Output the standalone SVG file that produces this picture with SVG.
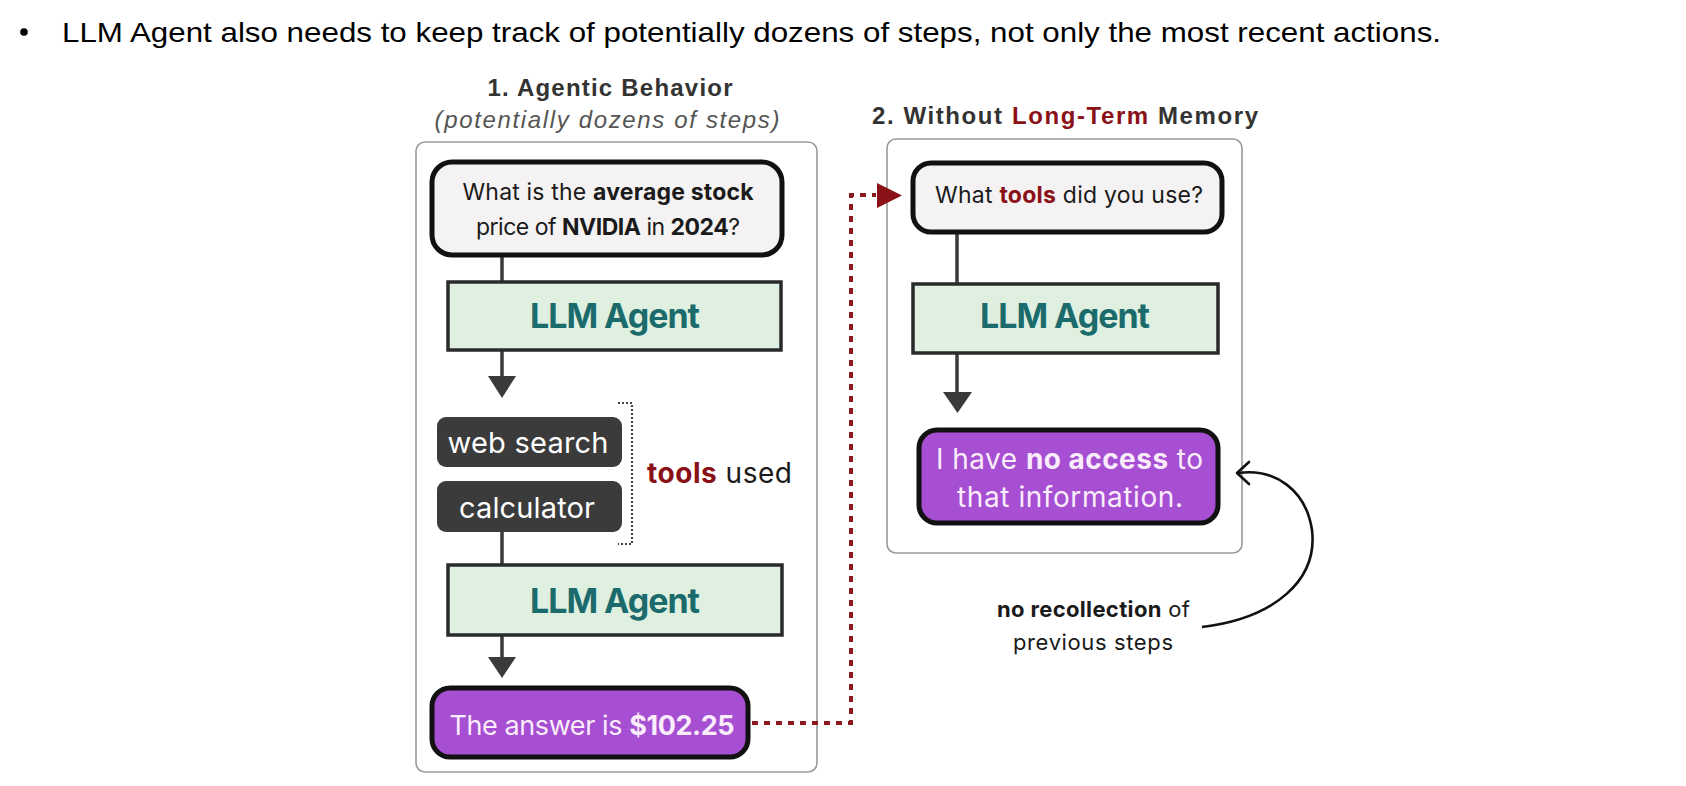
<svg xmlns="http://www.w3.org/2000/svg" width="1686" height="786" viewBox="0 0 1686 786">
<style>
  .panel{fill:#ffffff;stroke:#9a9a9a;stroke-width:1.6}
  .q{fill:#f4f2f2;stroke:#111;stroke-width:5}
  .llm{fill:#dff0e0;stroke:#2a2a2a;stroke-width:3.5}
  .tool{fill:#3b3b3b}
  .ans{fill:#a64fd2;stroke:#111;stroke-width:5}
  .t{font-family:Inter,"Liberation Sans",sans-serif;fill:#1a1a1a}
  .b{font-weight:700}
  .llmt{font-family:Inter,"Liberation Sans",sans-serif;font-weight:700;fill:#1b6b6d;font-size:34px}
  .wt{font-family:Inter,"Liberation Sans",sans-serif;fill:#ffffff}
  .pt{font-family:Inter,"Liberation Sans",sans-serif;fill:#fbecfb}
  .red{fill:#8b1118}
  .h{font-family:"Liberation Sans",Arial,sans-serif;font-weight:700;fill:#333333;font-size:24px}
  .flow{stroke:#3a3a3a;stroke-width:3.5;fill:none}
  .tri{fill:#3a3a3a}
</style>

<g id="title">
  <circle cx="24" cy="32" r="3.8" fill="#000"/>
  <text x="62" y="42" font-family="'Liberation Sans',Arial,sans-serif" font-size="28" fill="#000" textLength="1379" lengthAdjust="spacingAndGlyphs">LLM Agent also needs to keep track of potentially dozens of steps, not only the most recent actions.</text>
</g>

<g id="panel1">
  <rect class="panel" x="416" y="142" width="401" height="630" rx="9"/>
  <text class="h" x="610" y="96" text-anchor="middle" textLength="245">1. Agentic Behavior</text>
  <text x="607" y="128" text-anchor="middle" font-family="'Liberation Sans',Arial,sans-serif" font-style="italic" font-size="24" fill="#555" textLength="345">(potentially dozens of steps)</text>
</g>

<g id="panel2">
  <rect class="panel" x="887" y="139" width="355" height="414" rx="9"/>
  <text class="h" x="1065" y="124" text-anchor="middle" textLength="386">2. Without <tspan class="red">Long-Term</tspan> Memory</text>
</g>

<g id="connectors">
  <line class="flow" x1="502" y1="255" x2="502" y2="282"/>
  <line class="flow" x1="502" y1="350" x2="502" y2="378"/>
  <polygon class="tri" points="488,376 516,376 502,398"/>
  <line class="flow" x1="502" y1="532" x2="502" y2="565"/>
  <line class="flow" x1="502" y1="635" x2="502" y2="659"/>
  <polygon class="tri" points="488,657 516,657 502,678"/>
  <line class="flow" x1="957" y1="232" x2="957" y2="284"/>
  <line class="flow" x1="957" y1="353" x2="957" y2="394"/>
  <polygon class="tri" points="943,392 972,392 957.5,413"/>
  <path d="M752,723 H851 V195 H876" fill="none" stroke="#8b1a1f" stroke-width="4" stroke-dasharray="6 6"/>
  <polygon points="877,183 902,195.5 877,208" fill="#8b1118"/>
  <path d="M1202,627 C1275,618 1318,580 1312,530 C1306,490 1275,468 1238,473" fill="none" stroke="#111" stroke-width="2.6"/>
  <polyline points="1249,462 1237,473 1249,484" fill="none" stroke="#111" stroke-width="2.6" stroke-linecap="round" stroke-linejoin="round"/>
</g>

<g id="question1">
  <rect class="q" x="432" y="162" width="350" height="93" rx="20"/>
  <text class="t" x="608" y="200" text-anchor="middle" font-size="23" textLength="291">What is the <tspan class="b">average stock</tspan></text>
  <text class="t" x="608" y="235" text-anchor="middle" font-size="23" textLength="264">price of <tspan class="b">NVIDIA</tspan> in <tspan class="b">2024</tspan>?</text>
</g>

<g id="llm1">
  <rect class="llm" x="448" y="282" width="333" height="68"/>
  <text class="llmt" x="615" y="328" text-anchor="middle" textLength="170">LLM Agent</text>
</g>

<g id="websearch">
  <rect class="tool" x="437" y="417" width="185" height="50" rx="9"/>
  <text class="wt" x="528" y="453" text-anchor="middle" font-size="29" textLength="161">web search</text>
</g>

<g id="calculator">
  <rect class="tool" x="437" y="481" width="185" height="51" rx="9"/>
  <text class="wt" x="527" y="518" text-anchor="middle" font-size="29" textLength="136">calculator</text>
</g>

<g id="toolsused">
  <path d="M618,403 H632 V544 H618" fill="none" stroke="#444" stroke-width="2.2" stroke-dasharray="2 2"/>
  <text class="t" x="647" y="483" font-size="28" textLength="145"><tspan class="b red">tools</tspan> used</text>
</g>

<g id="llm2">
  <rect class="llm" x="448" y="565" width="334" height="70"/>
  <text class="llmt" x="615" y="613" text-anchor="middle" textLength="170">LLM Agent</text>
</g>

<g id="answer">
  <rect class="ans" x="432" y="688" width="316" height="69" rx="18"/>
  <text class="pt" x="592" y="735" text-anchor="middle" font-size="27" textLength="285">The answer is <tspan class="b">$102.25</tspan></text>
</g>

<g id="question2">
  <rect class="q" x="913" y="163" width="309" height="69" rx="18"/>
  <text class="t" x="1069" y="203" text-anchor="middle" font-size="23" textLength="268">What <tspan class="b red">tools</tspan> did you use?</text>
</g>

<g id="llm3">
  <rect class="llm" x="913" y="284" width="305" height="69"/>
  <text class="llmt" x="1065" y="328" text-anchor="middle" textLength="170">LLM Agent</text>
</g>

<g id="noaccess">
  <rect class="ans" x="919" y="430" width="299" height="93" rx="18"/>
  <text class="pt" x="1069.5" y="469" text-anchor="middle" font-size="28" textLength="267">I have <tspan class="b">no access</tspan> to</text>
  <text class="pt" x="1070" y="507" text-anchor="middle" font-size="28" textLength="226">that information.</text>
</g>

<g id="norecollection">
  <text class="t" x="1093.5" y="617" text-anchor="middle" font-size="22" textLength="193"><tspan class="b">no recollection</tspan> of</text>
  <text class="t" x="1093" y="650" text-anchor="middle" font-size="22" fill="#333" textLength="160">previous steps</text>
</g>
</svg>
